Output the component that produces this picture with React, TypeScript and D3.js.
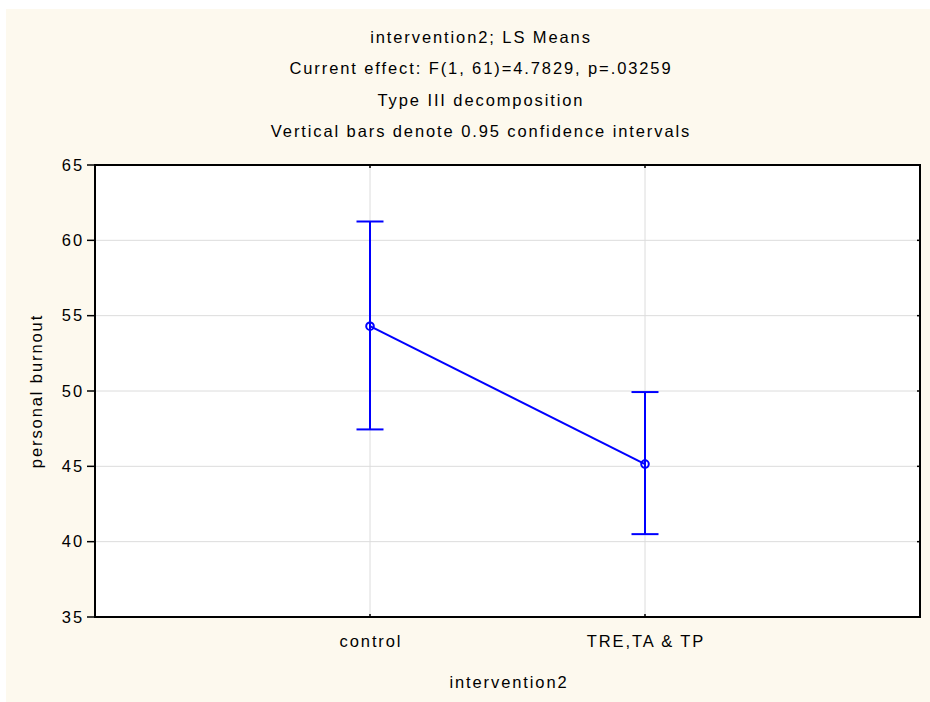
import React from "react";
import * as d3 from "d3";

const categories = ["control", "TRE,TA & TP"];
const means = [54.3, 45.15];
const lowerCI = [47.45, 40.5];
const upperCI = [61.25, 49.93];
const yTicks = [35, 40, 45, 50, 55, 60, 65];
const titleLines = [
  "intervention2; LS Means",
  "Current effect: F(1, 61)=4.7829, p=.03259",
  "Type III decomposition",
  "Vertical bars denote 0.95 confidence intervals",
];

const W = 930;
const H = 702;
const M = { left: 95, right: 920, top: 165, bottom: 617 };
const FONT = "'Liberation Sans', Arial, sans-serif";
const LS = 1.9;

export default function App() {
  const x = d3.scalePoint<string>().domain(categories).range([M.left, M.right]).padding(1);
  const y = d3.scaleLinear().domain([35, 65]).range([M.bottom, M.top]);
  const blue = "#0000ff";
  const line = d3
    .line<number>()
    .x((_, i) => x(categories[i]) as number)
    .y((d) => y(d));

  const textProps = { fontFamily: FONT, fontSize: 16.5, fill: "#000", letterSpacing: LS };

  return (
    <svg width={W} height={H} style={{ position: "absolute", left: 0, top: 0 }}>
      <rect x={0} y={0} width={W} height={H} fill="#ffffff" />
      <rect x={6} y={9} width={W - 6} height={H - 9} fill="#fdf9ee" />
      <rect x={M.left} y={M.top} width={M.right - M.left} height={M.bottom - M.top} fill="#ffffff" />

      {/* grid */}
      {yTicks.slice(1, -1).map((t) => (
        <line key={"gy" + t} x1={M.left} x2={M.right} y1={y(t)} y2={y(t)} stroke="#dcdcdc" strokeWidth={1} />
      ))}
      {categories.map((c) => (
        <line key={"gx" + c} x1={x(c)} x2={x(c)} y1={M.top} y2={M.bottom} stroke="#dcdcdc" strokeWidth={1} />
      ))}

      {/* frame */}
      <rect
        x={M.left}
        y={M.top}
        width={M.right - M.left}
        height={M.bottom - M.top}
        fill="none"
        stroke="#000"
        strokeWidth={2}
      />

      {/* y ticks */}
      {yTicks.map((t) => (
        <g key={"yt" + t}>
          <line x1={M.left - 8} x2={M.left} y1={y(t)} y2={y(t)} stroke="#000" strokeWidth={1.5} />
          <line x1={M.right - 3} x2={M.right} y1={y(t)} y2={y(t)} stroke="#000" strokeWidth={1.5} />
          <text x={M.left - 11} y={y(t)} dy="0.35em" textAnchor="end" {...textProps}>
            {t}
          </text>
        </g>
      ))}

      {/* x ticks */}
      {categories.map((c) => (
        <g key={"xt" + c}>
          <line x1={x(c)} x2={x(c)} y1={M.bottom - 3} y2={M.bottom} stroke="#000" strokeWidth={1.5} />
          <line x1={x(c)} x2={x(c)} y1={M.top} y2={M.top + 3} stroke="#000" strokeWidth={1.5} />
          <text x={(x(c) as number) + 1} y={647} textAnchor="middle" {...textProps}>
            {c}
          </text>
        </g>
      ))}

      {/* axis titles */}
      <text x={509} y={688} textAnchor="middle" {...textProps}>
        intervention2
      </text>
      <text
        transform={`translate(42, ${(M.top + M.bottom) / 2}) rotate(-90)`}
        textAnchor="middle"
        {...textProps}
      >
        personal burnout
      </text>

      {/* title */}
      {titleLines.map((t, i) => (
        <text key={"tl" + i} x={481} y={43 + i * 31.3} textAnchor="middle" {...textProps}>
          {t}
        </text>
      ))}

      {/* error bars */}
      {categories.map((c, i) => {
        const cx = x(c) as number;
        return (
          <g key={"eb" + c} stroke={blue} strokeWidth={2}>
            <line x1={cx} x2={cx} y1={y(lowerCI[i])} y2={y(upperCI[i])} />
            <line x1={cx - 13.5} x2={cx + 13.5} y1={y(upperCI[i])} y2={y(upperCI[i])} />
            <line x1={cx - 13.5} x2={cx + 13.5} y1={y(lowerCI[i])} y2={y(lowerCI[i])} />
          </g>
        );
      })}

      <path d={line(means) || ""} fill="none" stroke={blue} strokeWidth={2} />
      {categories.map((c, i) => (
        <circle key={"pt" + c} cx={x(c)} cy={y(means[i])} r={3.8} fill="none" stroke={blue} strokeWidth={2} />
      ))}
    </svg>
  );
}
